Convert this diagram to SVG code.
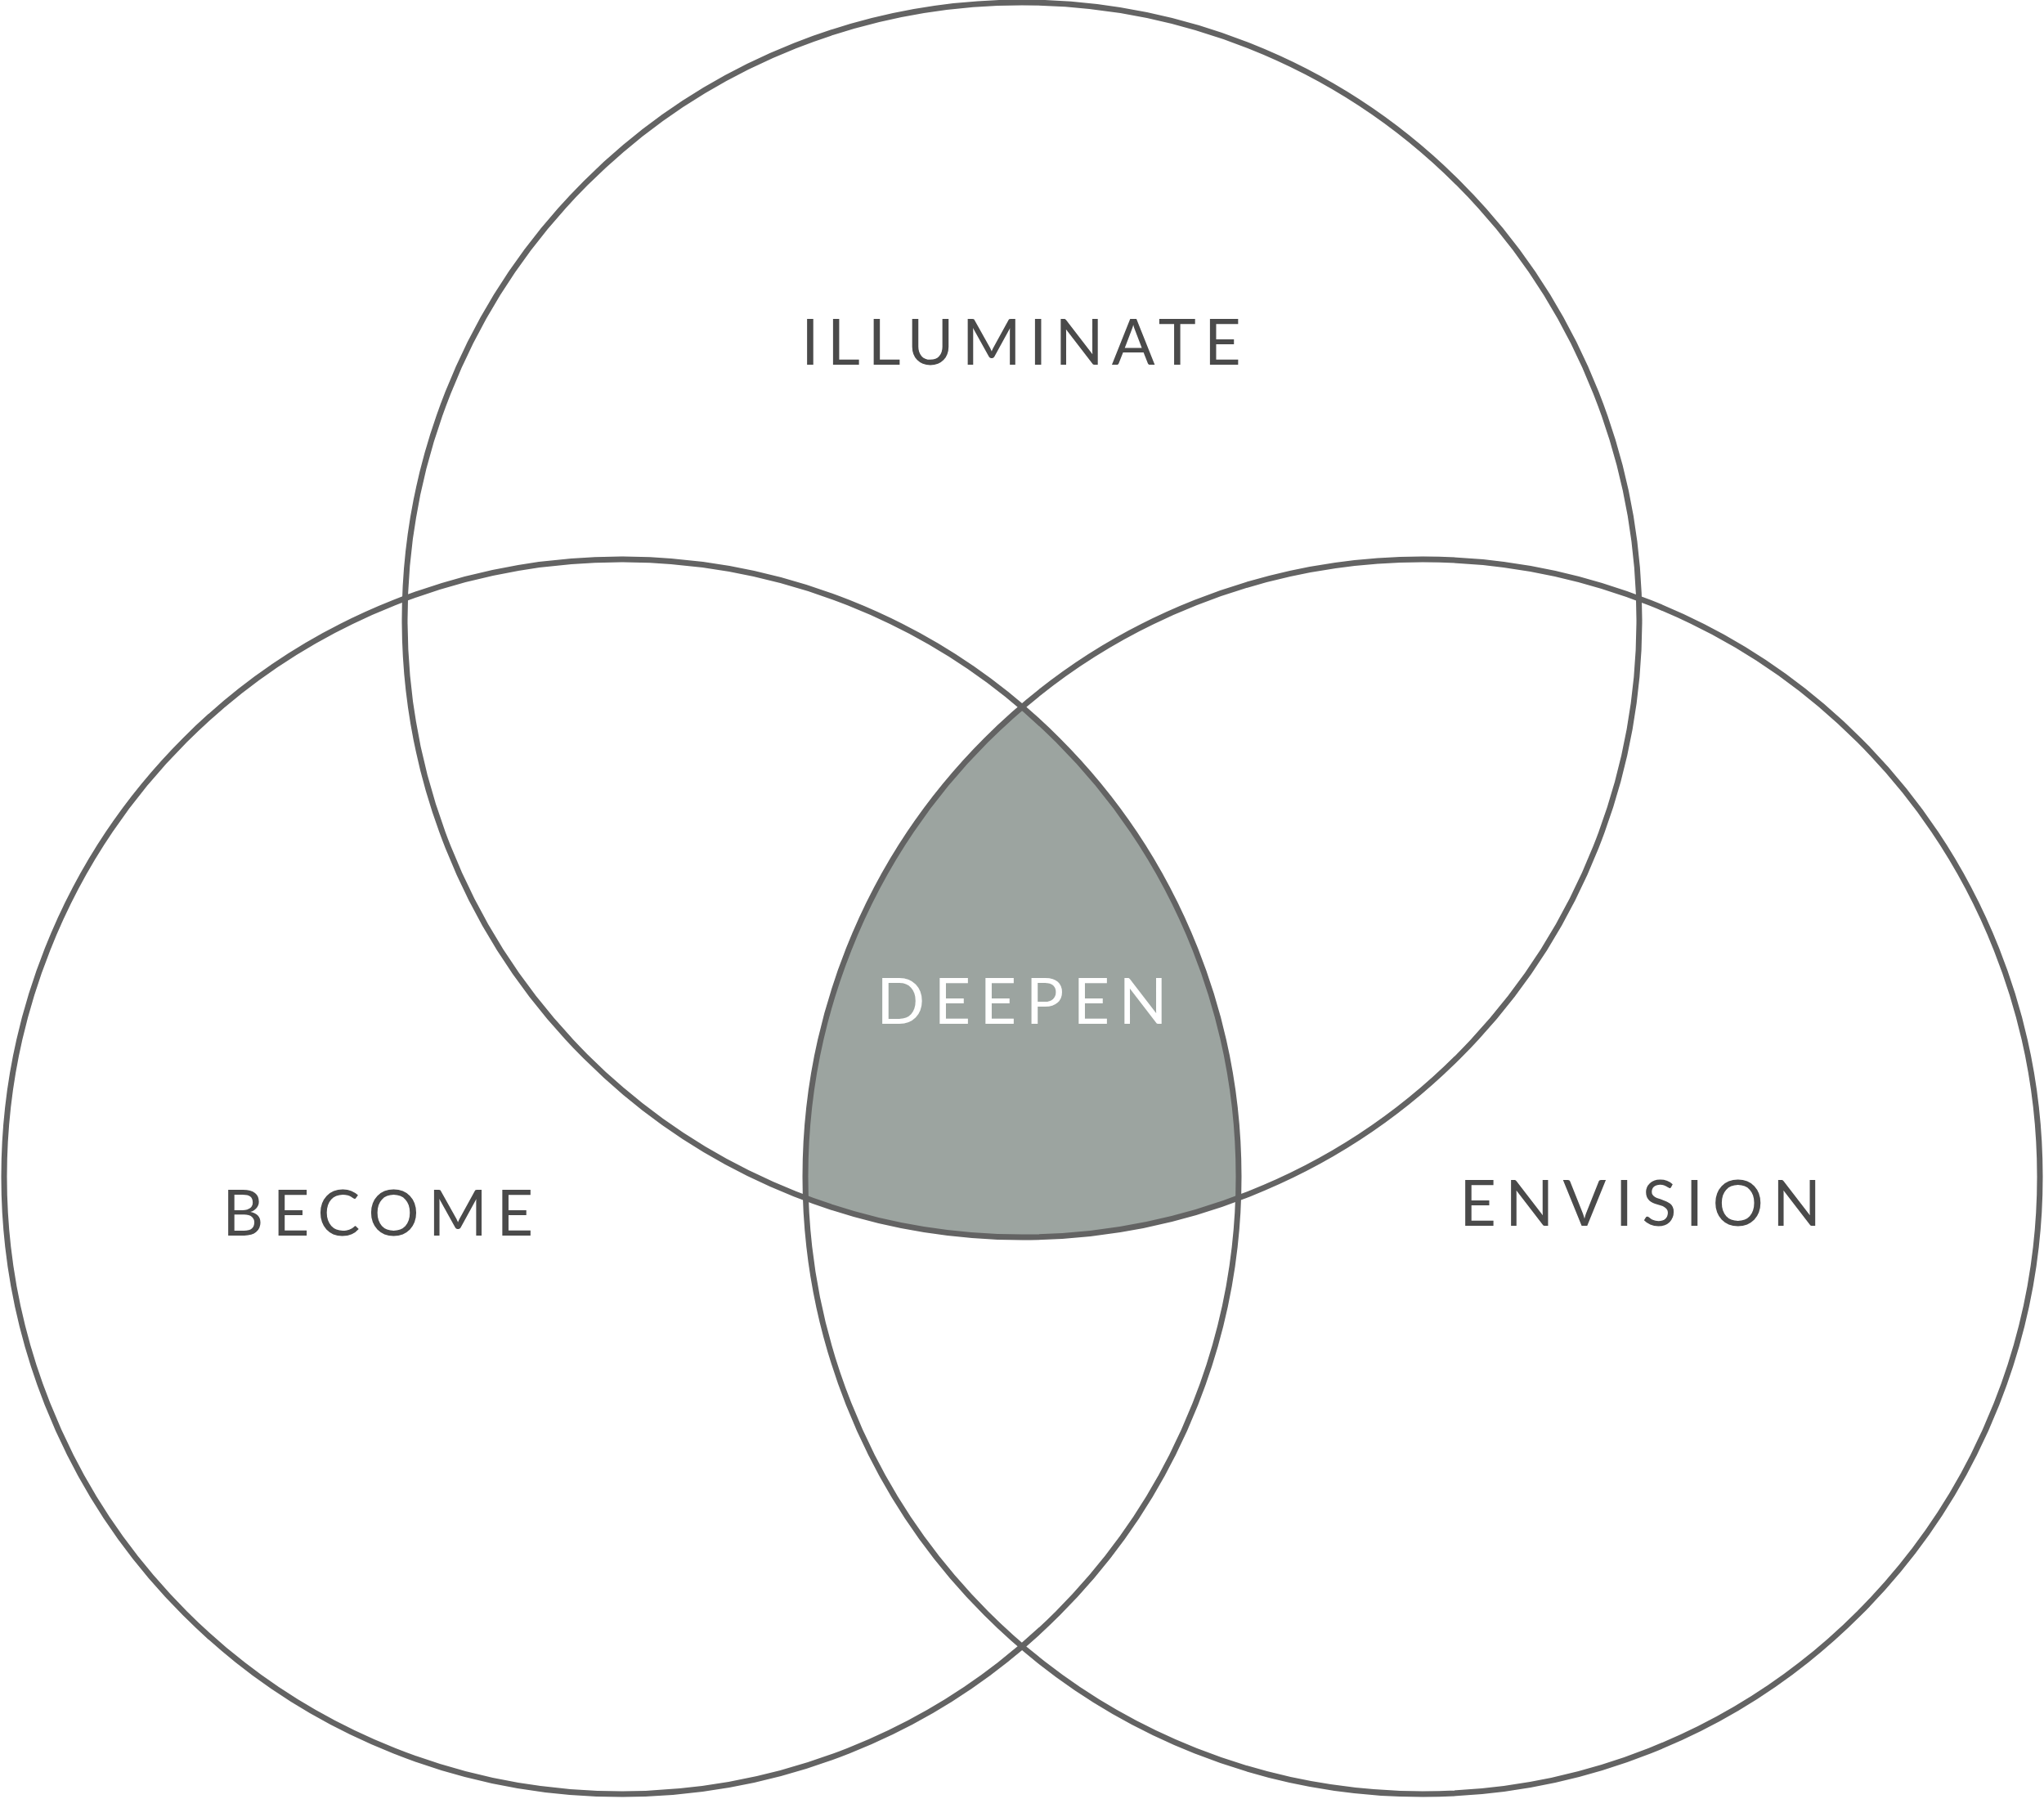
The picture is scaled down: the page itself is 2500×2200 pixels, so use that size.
<svg xmlns="http://www.w3.org/2000/svg" width="2500" height="2200" viewBox="0 0 2500 2200">
<style>
.ring{fill:none;stroke:#636363;stroke-width:7}
.lbl{font-family:Lato,"Open Sans","Liberation Sans",sans-serif;font-size:78px;fill:#4a4a4a;letter-spacing:11px}
.inv{fill:#ffffff}
</style>
<defs>
<clipPath id="clipLeft"><circle cx="760" cy="1439" r="755"/></clipPath>
<clipPath id="clipRight"><circle cx="1740" cy="1439" r="755"/></clipPath>
</defs>
<rect width="2500" height="2200" fill="#ffffff"/>
<g id="deepen">
<g clip-path="url(#clipLeft)">
<circle cx="1250" cy="758" r="755" fill="#9ca4a0" clip-path="url(#clipRight)"/>
</g>
<text class="lbl inv" x="1072" y="1252">DEEPEN</text>
</g>
<g id="illuminate">
<circle class="ring" cx="1250" cy="758" r="755"/>
<text class="lbl" x="980" y="446" style="letter-spacing:9.8px">ILLUMINATE</text>
</g>
<g id="become">
<circle class="ring" cx="760" cy="1439" r="755"/>
<text class="lbl" x="272" y="1511">BECOME</text>
</g>
<g id="envision">
<circle class="ring" cx="1740" cy="1439" r="755"/>
<text class="lbl" x="1785" y="1499">ENVISION</text>
</g>
<g id="connectors"/>
</svg>
